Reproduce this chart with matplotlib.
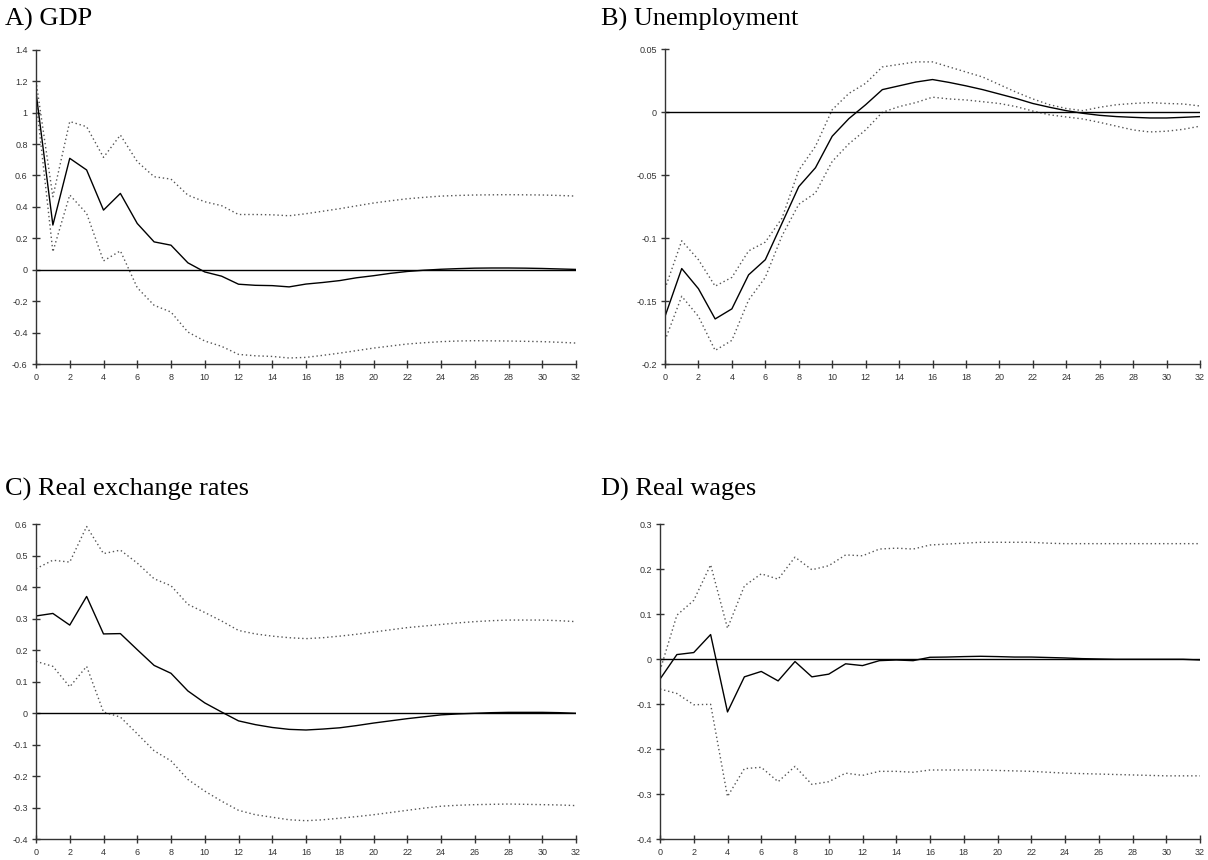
import matplotlib
matplotlib.use("Agg")
import matplotlib.pyplot as plt
import numpy as np

plt.rcParams['axes.unicode_minus'] = False

horizon = list(range(33))

titles = ["A) GDP", "B) Unemployment", "C) Real exchange rates", "D) Real wages"]

gdp_mean = [1.13, 0.285, 0.709, 0.635, 0.38, 0.486, 0.295, 0.178, 0.157, 0.045, -0.013,
            -0.04, -0.091, -0.098, -0.1, -0.108, -0.09, -0.08, -0.068, -0.05, -0.037,
            -0.022, -0.01, -0.002, 0.004, 0.008, 0.011, 0.012, 0.012, 0.011, 0.009, 0.006, 0.003]
gdp_upper = [1.2, 0.465, 0.943, 0.91, 0.715, 0.857, 0.688, 0.592, 0.577, 0.475, 0.433,
             0.408, 0.352, 0.352, 0.35, 0.344, 0.357, 0.373, 0.389, 0.407, 0.425,
             0.439, 0.452, 0.461, 0.469, 0.473, 0.476, 0.477, 0.478, 0.477, 0.476, 0.473, 0.469]
gdp_lower = [1.08, 0.115, 0.476, 0.359, 0.057, 0.121, -0.113, -0.225, -0.268, -0.395, -0.452,
             -0.486, -0.537, -0.546, -0.55, -0.56, -0.556, -0.543, -0.529, -0.513, -0.497,
             -0.484, -0.471, -0.463, -0.456, -0.452, -0.45, -0.451, -0.452, -0.454, -0.456, -0.46, -0.465]

unemp_mean = [-0.162, -0.124, -0.14, -0.164, -0.156, -0.129, -0.117, -0.088, -0.059, -0.044, -0.019,
              -0.005, 0.006, 0.018, 0.021, 0.024, 0.026, 0.0237, 0.021, 0.018, 0.0145,
              0.011, 0.007, 0.004, 0.0013, -0.0008, -0.0024, -0.0034, -0.004, -0.0045, -0.0045, -0.004, -0.0034]
unemp_upper = [-0.14, -0.102, -0.117, -0.138, -0.131, -0.11, -0.103, -0.084, -0.046, -0.027, 0.002,
               0.015, 0.023, 0.036, 0.038, 0.04, 0.04, 0.036, 0.032, 0.028, 0.022,
               0.016, 0.0106, 0.006, 0.003, 0.0013, 0.004, 0.006, 0.007, 0.0077, 0.007, 0.0066, 0.005]
unemp_lower = [-0.181, -0.146, -0.162, -0.189, -0.181, -0.149, -0.131, -0.098, -0.073, -0.064, -0.039,
               -0.025, -0.014, 0.0, 0.0045, 0.0077, 0.012, 0.0106, 0.0098, 0.0084, 0.007,
               0.0045, 0.001, -0.002, -0.0037, -0.0053, -0.008, -0.011, -0.014, -0.0156, -0.015, -0.0135, -0.011]

rer_mean = [0.309, 0.317, 0.28, 0.371, 0.252, 0.253, 0.202, 0.152, 0.127, 0.071, 0.033,
            0.004, -0.024, -0.036, -0.045, -0.051, -0.053, -0.05, -0.046, -0.039, -0.031,
            -0.024, -0.017, -0.011, -0.005, -0.002, 0.0, 0.002, 0.003, 0.003, 0.003, 0.002, 0.0]
rer_upper = [0.459, 0.486, 0.48, 0.593, 0.507, 0.518, 0.477, 0.427, 0.405, 0.346, 0.32,
             0.293, 0.263, 0.252, 0.245, 0.24, 0.237, 0.24, 0.245, 0.251, 0.258,
             0.265, 0.272, 0.277, 0.282, 0.287, 0.291, 0.294, 0.296, 0.296, 0.296, 0.294, 0.291]
rer_lower = [0.165, 0.149, 0.084, 0.149, 0.004, -0.012, -0.065, -0.119, -0.151, -0.21, -0.247,
             -0.279, -0.308, -0.322, -0.33, -0.338, -0.341, -0.338, -0.333, -0.328, -0.322,
             -0.315, -0.308, -0.301, -0.295, -0.292, -0.29, -0.289, -0.288, -0.289, -0.29, -0.291, -0.293]

wage_mean = [-0.044, 0.0105, 0.015, 0.055, -0.117, -0.039, -0.027, -0.048, -0.005, -0.039, -0.033,
             -0.01, -0.014, -0.003, -0.0015, -0.003, 0.0045, 0.005, 0.006, 0.0067, 0.006,
             0.005, 0.005, 0.004, 0.003, 0.0015, 0.0007, 0.0, 0.0, 0.0, 0.0, 0.0, -0.0015]
wage_upper = [-0.025, 0.098, 0.131, 0.21, 0.069, 0.163, 0.19, 0.178, 0.227, 0.199, 0.208,
              0.232, 0.23, 0.245, 0.247, 0.245, 0.254, 0.256, 0.258, 0.26, 0.26,
              0.26, 0.26, 0.258, 0.257, 0.257, 0.257, 0.257, 0.257, 0.257, 0.257, 0.257, 0.257]
wage_lower = [-0.066, -0.076, -0.101, -0.1, -0.305, -0.243, -0.24, -0.272, -0.238, -0.278, -0.272,
              -0.253, -0.258, -0.249, -0.249, -0.251, -0.246, -0.246, -0.246, -0.246, -0.247,
              -0.248, -0.249, -0.251, -0.253, -0.254, -0.255, -0.256, -0.257, -0.258, -0.259, -0.259, -0.259]

xticks = list(range(0, 33, 2))
yticks_gdp = [-0.6, -0.4, -0.2, 0, 0.2, 0.4, 0.6, 0.8, 1, 1.2, 1.4]
yticks_unemp = [-0.2, -0.15, -0.1, -0.05, 0, 0.05]
yticks_rer = [-0.4, -0.3, -0.2, -0.1, 0, 0.1, 0.2, 0.3, 0.4, 0.5, 0.6]
yticks_wage = [-0.4, -0.3, -0.2, -0.1, 0, 0.1, 0.2, 0.3]

W, H = 1208, 860
fig = plt.figure(figsize=(W / 100, H / 100), dpi=100)

def rect(l, r, t, b):
    return [l / W, (H - b) / H, (r - l) / W, (b - t) / H]

panels = [
    (rect(36, 576, 49.6, 364.3), gdp_mean, gdp_upper, gdp_lower, yticks_gdp, (5, 26)),
    (rect(665, 1200, 49.3, 364.3), unemp_mean, unemp_upper, unemp_lower, yticks_unemp, (601, 26)),
    (rect(36, 576, 524.3, 839.3), rer_mean, rer_upper, rer_lower, yticks_rer, (5, 496)),
    (rect(660, 1200, 524.3, 839.3), wage_mean, wage_upper, wage_lower, yticks_wage, (601, 496)),
]

for (r, mean, up, lo, yt, tpos), title in zip(panels, titles):
    ax = fig.add_axes(r)
    ax.plot(horizon, up, color='#555555', lw=1.0, linestyle=(0, (1, 2)))
    ax.plot(horizon, lo, color='#555555', lw=1.0, linestyle=(0, (1, 2)))
    ax.plot(horizon, mean, color='black', lw=1.0)
    ax.axhline(0, color='black', lw=1.0)
    ax.set_xlim(0, 32)
    ax.set_ylim(yt[0], yt[-1])
    ax.set_xticks(xticks)
    ax.set_xticklabels([str(x) for x in xticks])
    ax.set_yticks(yt)
    ax.set_yticklabels(['%g' % v for v in yt])
    for s in ['top', 'right']:
        ax.spines[s].set_visible(False)
    for s in ['left', 'bottom']:
        ax.spines[s].set_color('#333333')
        ax.spines[s].set_linewidth(1.0)
    ax.tick_params(direction='inout', length=6, width=1.0, labelsize=6.5,
                   colors='#333333', pad=3)
    for lab in ax.get_xticklabels() + ax.get_yticklabels():
        lab.set_fontfamily('Liberation Sans')
    fig.text(tpos[0] / W, (H - tpos[1]) / H, title, fontsize=19,
             fontfamily='Liberation Serif', ha='left', va='baseline')

fig.savefig('out.png', dpi=100)
